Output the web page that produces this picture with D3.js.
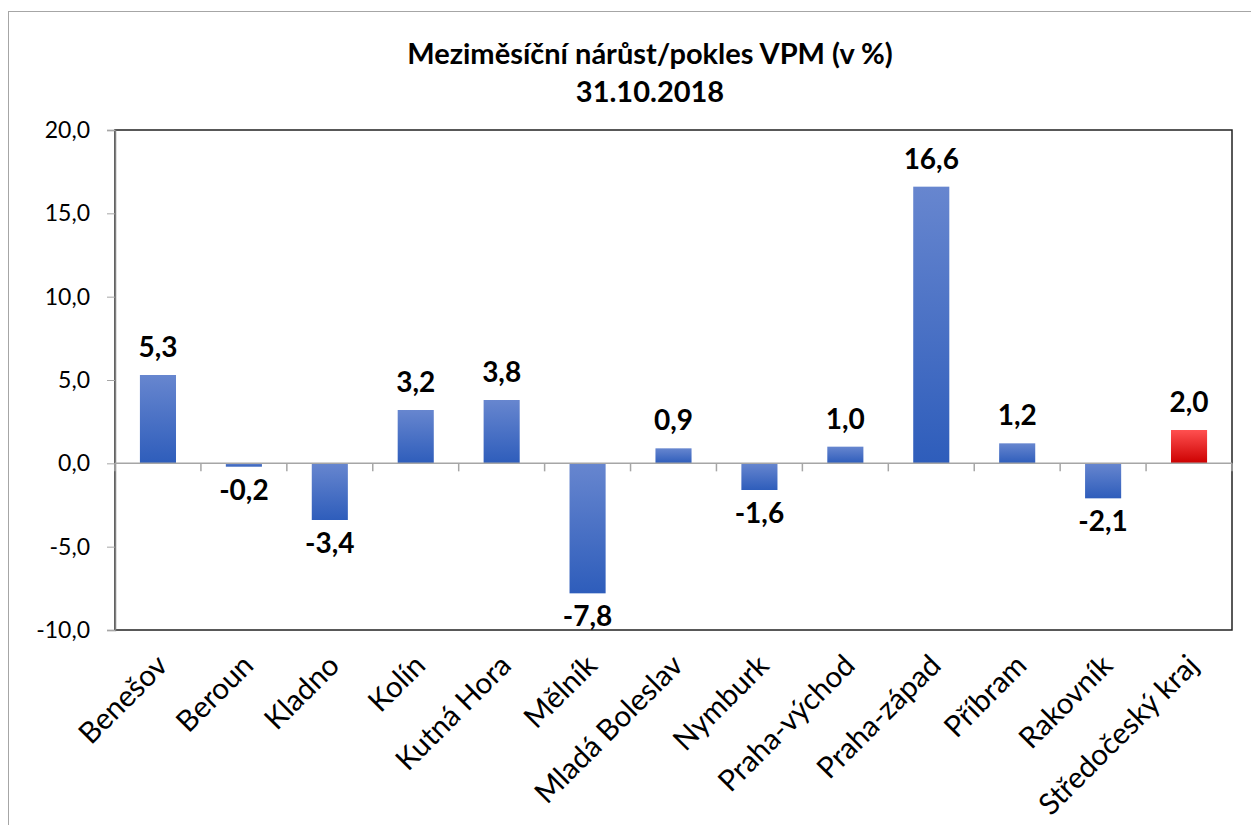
<!DOCTYPE html>
<html lang="cs">
	<head>
		<meta charset="utf-8">
		<title>Meziměsíční nárůst/pokles VPM</title>
		<script type="text/javascript" src="https://cdnjs.cloudflare.com/ajax/libs/d3/7.8.5/d3.min.js"></script>
		<style type="text/css">
			body { margin: 0; background: #fff; overflow: hidden; }
			svg { display: block; font-family: Lato, "Open Sans", sans-serif; }
		</style>
	</head>
	<body>
		<script type="text/javascript">

			//Data
			var categories = ["Benešov", "Beroun", "Kladno", "Kolín", "Kutná Hora", "Mělník", "Mladá Boleslav",
				"Nymburk", "Praha-východ", "Praha-západ", "Příbram", "Rakovník", "Středočeský kraj"];
			var values = [5.3, -0.2, -3.4, 3.2, 3.8, -7.8, 0.9, -1.6, 1.0, 16.6, 1.2, -2.1, 2.0];
			var yTicks = [-10, -5, 0, 5, 10, 15, 20];
			var titleLines = ["Meziměsíční nárůst/pokles VPM (v %)", "31.10.2018"];

			//Width and height
			var w = 1251;
			var h = 825;
			var plotLeft = 115, plotRight = 1232, plotTop = 130, plotBottom = 630;

			var fmt = v => d3.format(".1f")(v).replace(".", ",").replace("−", "-");

			var svg = d3.select("body")
						.append("svg")
						.attr("width", w)
						.attr("height", h);

			//Gradients
			var defs = svg.append("defs");
			var gBlue = defs.append("linearGradient").attr("id", "gBlue")
				.attr("x1", 0).attr("y1", 0).attr("x2", 0).attr("y2", 1);
			gBlue.append("stop").attr("offset", "0%").attr("stop-color", "#6786cf");
			gBlue.append("stop").attr("offset", "100%").attr("stop-color", "#2e5dbb");
			var gRed = defs.append("linearGradient").attr("id", "gRed")
				.attr("x1", 0).attr("y1", 0).attr("x2", 0).attr("y2", 1);
			gRed.append("stop").attr("offset", "0%").attr("stop-color", "#ff5050");
			gRed.append("stop").attr("offset", "100%").attr("stop-color", "#cc0000");

			//Outer frame
			svg.append("rect")
				.attr("x", 8.5).attr("y", 11.5)
				.attr("width", w).attr("height", h)
				.attr("fill", "none")
				.attr("stroke", "#a6a6a6");

			//Title
			svg.append("text")
				.attr("text-anchor", "middle")
				.attr("font-weight", "bold")
				.attr("font-size", 29)
				.selectAll("tspan")
				.data(titleLines)
				.enter()
				.append("tspan")
				.attr("x", 650)
				.attr("y", (d, i) => 64 + i * 38)
				.text(d => d);

			//Scales
			var xScale = d3.scaleBand()
						   .domain(categories)
						   .range([plotLeft, plotRight])
						   .paddingInner(0.58)
						   .paddingOuter(0.29);

			var band = (plotRight - plotLeft) / categories.length;

			var yScale = d3.scaleLinear()
						   .domain([-10, 20])
						   .range([plotBottom, plotTop]);

			//Plot frame
			svg.append("rect")
				.attr("x", plotLeft).attr("y", plotTop)
				.attr("width", plotRight - plotLeft).attr("height", plotBottom - plotTop)
				.attr("fill", "none")
				.attr("stroke", "#222")
				.attr("stroke-width", 1.5);

			//Y axis
			var yAxis = d3.axisLeft(yScale)
						  .tickValues(yTicks)
						  .tickSize(8)
						  .tickPadding(17)
						  .tickFormat(fmt);

			var gy = svg.append("g")
				.attr("transform", `translate(${plotLeft},0)`)
				.call(yAxis);
			gy.select(".domain").attr("stroke", "#808080").attr("stroke-width", 1.5);
			gy.selectAll(".tick line").attr("stroke", "#a6a6a6");
			gy.selectAll(".tick text")
				.attr("font-size", 23)
				.attr("fill", "#000")
				.attr("font-family", "Lato, sans-serif");

			//Bars
			svg.selectAll("rect.bar")
			   .data(values)
			   .enter()
			   .append("rect")
			   .attr("class", "bar")
			   .attr("x", (d, i) => xScale(categories[i]))
			   .attr("width", xScale.bandwidth())
			   .attr("y", d => yScale(Math.max(0, d)))
			   .attr("height", d => Math.abs(yScale(d) - yScale(0)))
			   .attr("fill", (d, i) => i === categories.length - 1 ? "url(#gRed)" : "url(#gBlue)");

			//Zero line with category ticks
			svg.append("line")
				.attr("x1", plotLeft).attr("x2", plotRight)
				.attr("y1", yScale(0)).attr("y2", yScale(0))
				.attr("stroke", "#a6a6a6")
				.attr("stroke-width", 1.5);

			svg.selectAll("line.ctick")
				.data(d3.range(categories.length + 1))
				.enter()
				.append("line")
				.attr("class", "ctick")
				.attr("x1", i => plotLeft + i * band)
				.attr("x2", i => plotLeft + i * band)
				.attr("y1", yScale(0))
				.attr("y2", yScale(0) + 8)
				.attr("stroke", "#a6a6a6")
				.attr("stroke-width", 1.5);

			//Value labels
			svg.selectAll("text.val")
			   .data(values)
			   .enter()
			   .append("text")
			   .attr("class", "val")
			   .attr("x", (d, i) => xScale(categories[i]) + xScale.bandwidth() / 2)
			   .attr("y", d => d >= 0 ? yScale(d) - 18 : yScale(d) + 33)
			   .attr("text-anchor", "middle")
			   .attr("font-weight", "bold")
			   .attr("font-size", 28)
			   .text(fmt);

			//Category labels
			svg.selectAll("text.cat")
			   .data(categories)
			   .enter()
			   .append("text")
			   .attr("class", "cat")
			   .attr("transform", d => `translate(${xScale(d) + xScale.bandwidth() / 2 + 4},${plotBottom + 30}) rotate(-45)`)
			   .attr("text-anchor", "end")
			   .attr("dy", "0.35em")
			   .attr("font-size", 29.5)
			   .text(d => d);

		</script>
	</body>
</html>
